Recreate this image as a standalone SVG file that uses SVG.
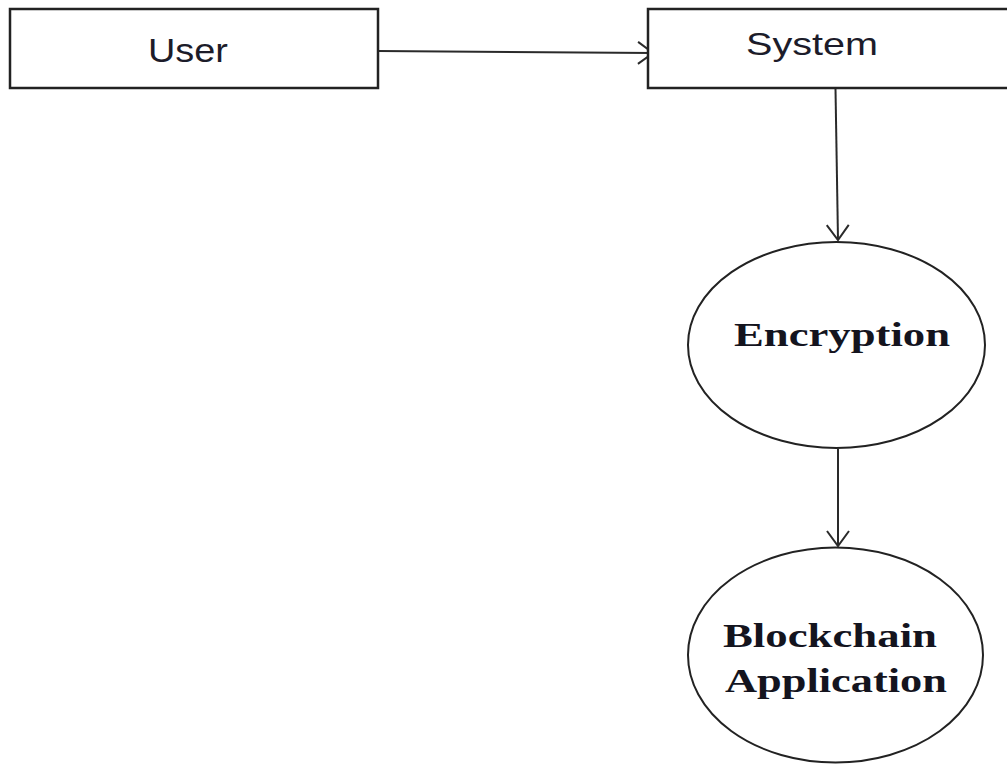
<svg xmlns="http://www.w3.org/2000/svg" width="1007" height="764" viewBox="0 0 1007 764">
  <style>
    .box { fill: #ffffff; stroke: #222222; stroke-width: 2.5; }
    .oval { fill: #ffffff; stroke: #222222; stroke-width: 2; }
    .edge { fill: none; stroke: #2a2a2a; stroke-width: 2; }
    .sans { font-family: "Liberation Sans", Arial, sans-serif; fill: #1c1c2a; }
    .serif { font-family: "Liberation Serif", "Times New Roman", serif; font-weight: bold; fill: #14141e; }
  </style>
  <defs>
    <marker id="open-arrow" markerUnits="userSpaceOnUse" markerWidth="40" markerHeight="40" viewBox="-20 -20 40 40" refX="0" refY="0" orient="auto">
      <path d="M-15,-11 L0,0 L-15,11" fill="none" stroke="#2a2a2a" stroke-width="2"/>
    </marker>
  </defs>

  <rect width="1007" height="764" fill="#ffffff"/>

  <g id="connectors">
    <line class="edge" x1="378" y1="51" x2="653" y2="53" marker-end="url(#open-arrow)"/>
    <line class="edge" x1="835.5" y1="89" x2="838" y2="240" marker-end="url(#open-arrow)"/>
    <line class="edge" x1="838" y1="449" x2="838" y2="546" marker-end="url(#open-arrow)"/>
  </g>

  <g id="user">
    <rect class="box" x="10" y="9" width="368" height="79"/>
    <text class="sans" x="148" y="62" font-size="34" textLength="80" lengthAdjust="spacingAndGlyphs">User</text>
  </g>

  <g id="system">
    <rect class="box" x="648" y="9" width="370" height="79"/>
    <text class="sans" x="746" y="55" font-size="32" textLength="132" lengthAdjust="spacingAndGlyphs">System</text>
  </g>

  <g id="encryption">
    <ellipse class="oval" cx="836.5" cy="345" rx="148.5" ry="103"/>
    <text class="serif" x="734" y="346" font-size="34" textLength="216" lengthAdjust="spacingAndGlyphs">Encryption</text>
  </g>

  <g id="blockchain-application">
    <ellipse class="oval" cx="835.5" cy="655" rx="147.5" ry="107.5"/>
    <text class="serif" x="723" y="647" font-size="34" textLength="214" lengthAdjust="spacingAndGlyphs">Blockchain</text>
    <text class="serif" x="725" y="692" font-size="34" textLength="222" lengthAdjust="spacingAndGlyphs">Application</text>
  </g>
</svg>
